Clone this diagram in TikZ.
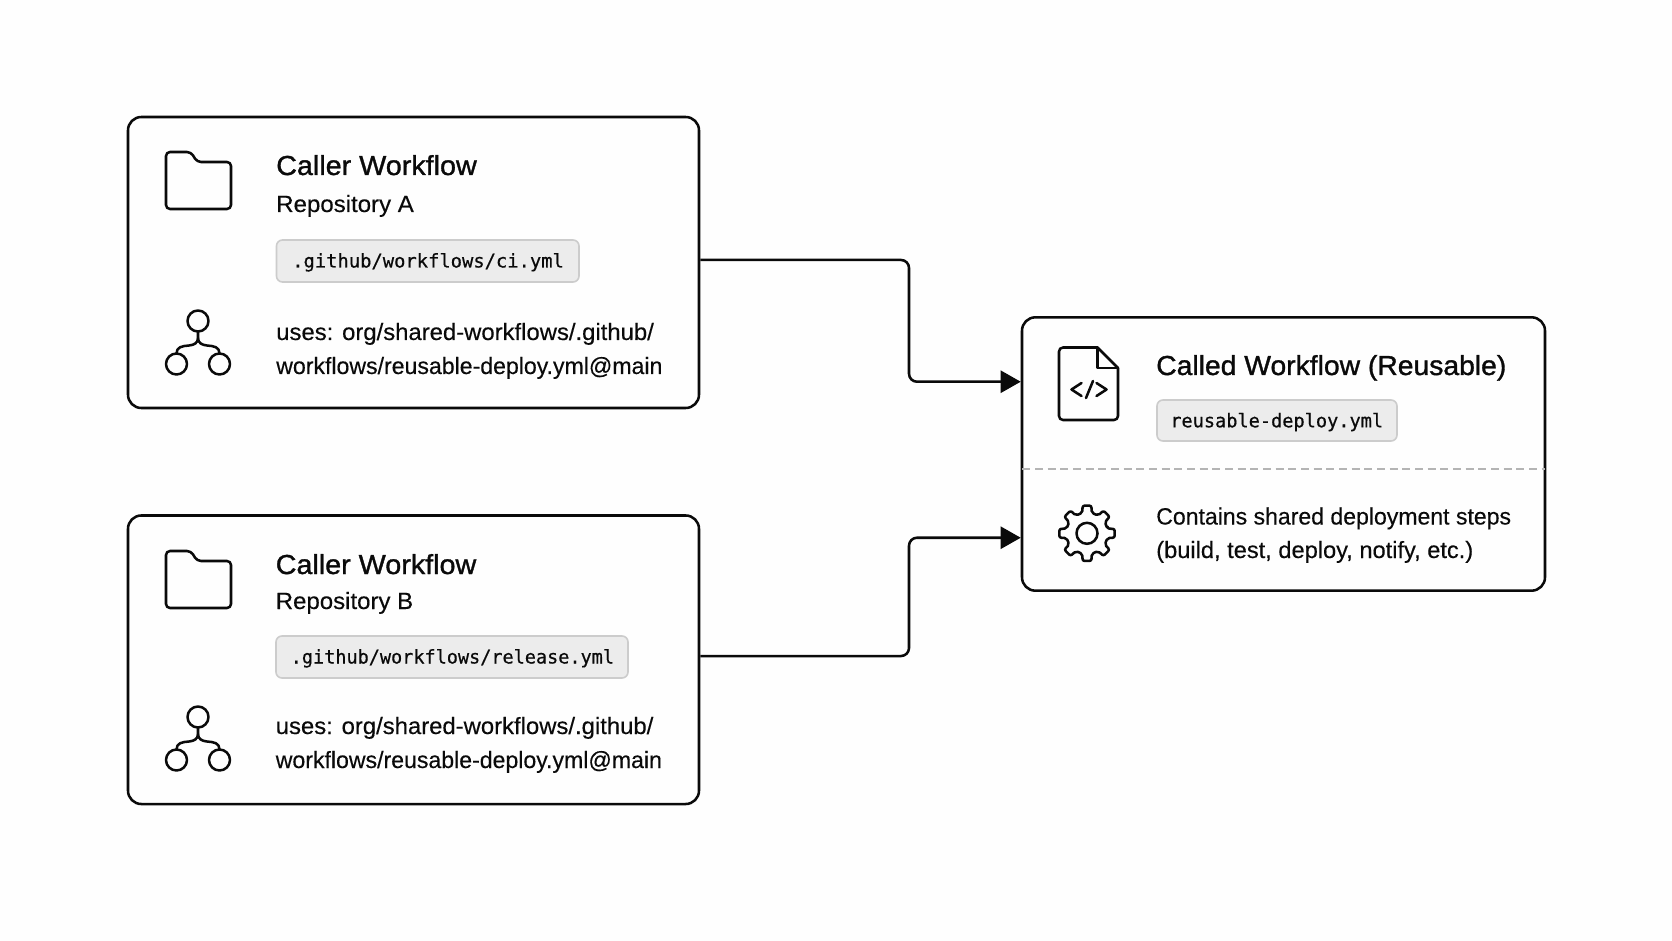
\documentclass[tikz,border=0pt]{standalone}
\usepackage{fontspec}
\usetikzlibrary{arrows.meta}
\setmainfont{Liberation Sans}
\newfontfamily\titlefam[FakeBold=1.2,FakeStretch=1.03]{Liberation Sans}
\newfontfamily\bodyfam[FakeBold=0.3]{Liberation Sans}
\newfontfamily\codefam[FakeBold=0.5]{DejaVu Sans Mono}
\newcommand{\fitw}[2]{\scalebox{#1}[1]{#2}}
\definecolor{ink}{HTML}{0A0A0A}
\definecolor{tagfill}{HTML}{ECECEC}
\definecolor{tagline}{HTML}{CCCCCC}
\definecolor{dashc}{HTML}{B4B4B4}
\definecolor{bg}{HTML}{FEFEFE}
\tikzset{
  card/.style={draw=ink,line width=1.9pt,rounded corners=10pt,fill=bg,inner sep=0pt,anchor=center},
  tagbox/.style={draw=tagline,fill=tagfill,line width=1.2pt,rounded corners=4.5pt},
  icon/.style={draw=ink,line width=1.9pt,line cap=round,line join=round},
  link/.style={draw=ink,line width=1.9pt,rounded corners=6pt,-{Triangle[length=15pt,width=16.5pt]}},
  ttl/.style={anchor=base west,inner sep=0pt,text=ink,font=\titlefam\fontsize{20.6pt}{24pt}\selectfont},
  bodytxt/.style={anchor=base west,inner sep=0pt,text=ink,font=\bodyfam\fontsize{17.6pt}{24pt}\selectfont},
  codetxt/.style={anchor=base west,inner sep=0pt,text=ink,font=\codefam\fontsize{14.17pt}{18pt}\selectfont},
}
\begin{document}
\begin{tikzpicture}[x=0.75pt,y=-0.75pt]
\useasboundingbox (0,0) rectangle (1672,941);
\fill[bg] (0,0) rectangle (1672,941);
% cards
\node[card,minimum width=428.25pt,minimum height=218.25pt] (cardA) at (413.5,262.5) {};
\node[card,minimum width=428.25pt,minimum height=216.4pt] (cardB) at (413.5,659.75) {};
\node[card,minimum width=392.25pt,minimum height=205pt] (cardC) at (1283.5,454) {};
% connectors
\coordinate (bend1) at (909,320);
\coordinate (bend2) at (909,600);
\coordinate (inA) at ([yshift=54.2pt]cardC.west);
\coordinate (inB) at ([yshift=-62.8pt]cardC.west);
\draw[link] ([yshift=1.9pt]cardA.east) -| (bend1) |- (inA);
\draw[link] ([yshift=2.8pt]cardB.east) -| (bend2) |- (inB);
% divider
\coordinate (divL) at ([yshift=-11.25pt,xshift=1.2pt]cardC.west);
\coordinate (divR) at ([yshift=-11.25pt,xshift=-1.2pt]cardC.east);
\draw[dashc,line width=1.3pt,dash pattern=on 6pt off 3.5pt] (divL) -- (divR);
% card A
\node[ttl] (ta) at (276,175) {\fitw{1.015}{Caller Workflow}};
\node[bodytxt] (ra) at (276,212) {\fitw{1.024}{Repository A}};
\draw[tagbox] (276.5,240) rectangle (579,282);
\node[codetxt] (ca) at (292,267.5) {\fitw{0.995}{.github/workflows/ci.yml}};
\node[bodytxt] (ua) at (276,340) {\fitw{1.017}{uses: org/shared-workflows/.github/}};
\node[bodytxt] (va) at (276,374) {\fitw{0.984}{workflows/reusable-deploy.yml@main}};
% card B
\node[ttl] (tb) at (275.5,574) {\fitw{1.015}{Caller Workflow}};
\node[bodytxt] (rb) at (275.5,609) {\fitw{1.023}{Repository B}};
\draw[tagbox] (276,636) rectangle (628,678);
\node[codetxt] (cb) at (290.5,663.5) {\fitw{0.98}{.github/workflows/release.yml}};
\node[bodytxt] (ub) at (275.5,734) {\fitw{1.017}{uses: org/shared-workflows/.github/}};
\node[bodytxt] (vb) at (275.5,768) {\fitw{0.984}{workflows/reusable-deploy.yml@main}};
% card C
\node[ttl] (tc) at (1156,375) {Called Workflow (Reusable)};
\draw[tagbox] (1157,400) rectangle (1397,441);
\node[codetxt] (cc) at (1170,427.3) {\fitw{0.985}{reusable-deploy.yml}};
\node[bodytxt] (sa) at (1156,524.5) {\fitw{0.982}{Contains shared deployment steps}};
\node[bodytxt] (sb) at (1156,558) {\fitw{1.007}{(build, test, deploy, notify, etc.)}};
% folder icons
\foreach \dy in {0,399}{
  \begin{scope}[yshift=-\dy*0.75pt]
    \draw[icon,rounded corners=3pt] (166,209) -- (166,152) -- (191,152) -- (197,162) -- (231,162) -- (231,209) -- cycle;
  \end{scope}
}
% tree icons
\foreach \dy in {0,396}{
  \begin{scope}[yshift=-\dy*0.75pt]
    \draw[icon] (198,321) circle[radius=10.5];
    \draw[icon] (176.5,364) circle[radius=10.5];
    \draw[icon] (219.5,364) circle[radius=10.5];
    \draw[icon] (198,331.5) -- (198,338) .. controls (198,343) and (194,345) .. (189,345.5) .. controls (182,346) and (176.5,347) .. (176.5,353.5);
    \draw[icon] (198,338) .. controls (198,343) and (202,345) .. (207,345.5) .. controls (214,346) and (219.5,347) .. (219.5,353.5);
  \end{scope}
}
% document icon
\draw[icon,rounded corners=3pt] (1097.5,347.5) -- (1059,347.5) -- (1059,420) -- (1118,420) -- (1118,368);
\draw[icon] (1097.5,347.5) -- (1118,368);
\draw[icon] (1097.5,347.5) -- (1097.5,368) -- (1118,368);
\draw[icon] (1081.5,383) -- (1071.5,389.5) -- (1081.5,396);
\draw[icon] (1096.5,383) -- (1106.5,389.5) -- (1096.5,396);
\draw[icon] (1093,381) -- (1086,398);
% gear icon
\begin{scope}[shift={(1087,533.3)}]
  \draw[icon] (0,0) circle[radius=10.5];
  \draw[icon,rounded corners=1.5pt] (-13:21) \foreach \a in {0,45,...,315}{ -- (\a-13:21) -- (\a-9:28) -- (\a+9:28) -- (\a+13:21)} -- cycle;
\end{scope}
\end{tikzpicture}
\end{document}
